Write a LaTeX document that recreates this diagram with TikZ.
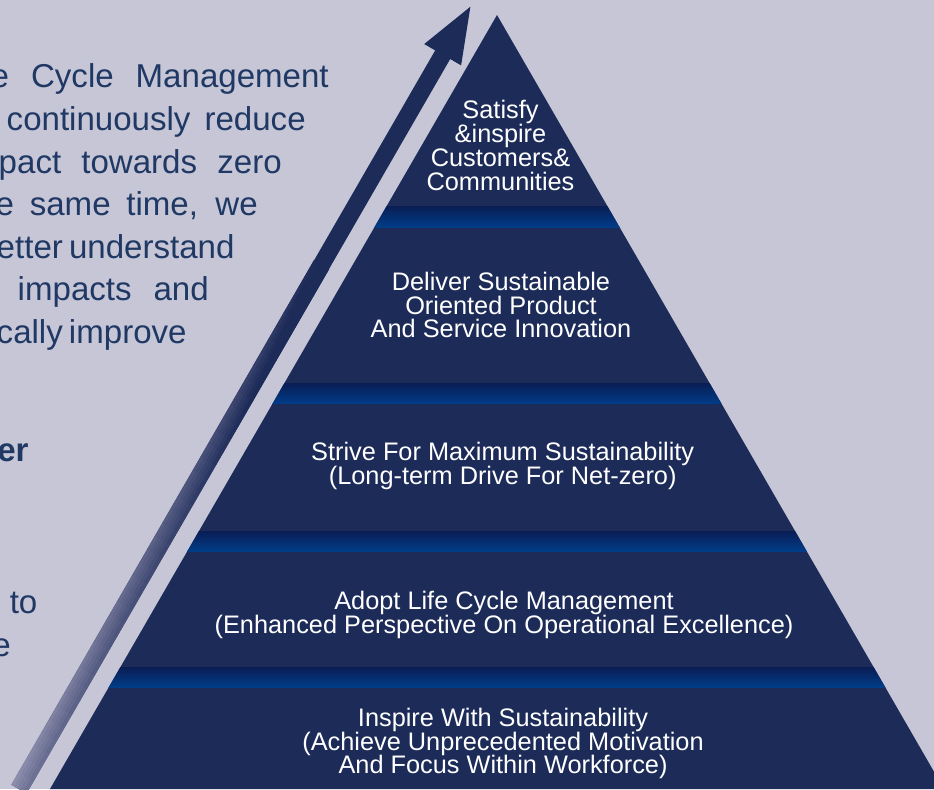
\documentclass[tikz,border=0pt]{standalone}
\usepackage{fontspec}
\setmainfont{Liberation Sans}
\usetikzlibrary{calc}
\definecolor{bgc}{HTML}{C6C6D6}
\definecolor{navyc}{HTML}{1D2B59}
\definecolor{bandtop}{HTML}{0A1E55}
\definecolor{bandbot}{HTML}{003C88}
\definecolor{arrowlight}{HTML}{9292B0}
\definecolor{txtc}{HTML}{1F3864}
\newlength\pxu
\setlength\pxu{0.75pt}
\begin{document}
\begin{tikzpicture}[x=0.75pt,y=-0.75pt,
  pyrtext/.style={text=white, font=\fontsize{19}{17.8}\selectfont, inner sep=0pt, anchor=base},
  lefttext/.style={text=txtc, font=\fontsize{24.8}{28}\selectfont, inner sep=0pt},
  bandfill/.style={top color=bandtop, bottom color=bandbot}]
\useasboundingbox (0,0) rectangle (934,789);
\fill[bgc] (0,0) rectangle (934,789);
\clip (0,0) rectangle (934,789);

% left paragraph (justified fragments)
\node[lefttext, anchor=base east] (l1) at (329,87.3) {\makebox[338\pxu][s]{e Cycle Management}};
\node[lefttext, anchor=base east] (l2) at (306,130) {\makebox[299\pxu][s]{continuously reduce}};
\node[lefttext, anchor=base east] (l3) at (282,173.5) {\makebox[283\pxu][s]{pact towards zero}};
\node[lefttext, anchor=base east] (l4) at (258,215) {\makebox[262\pxu][s]{e same time, we}};
\node[lefttext, anchor=base east] (l5) at (233,258) {\makebox[236\pxu][s]{etter understand}};
\node[lefttext, anchor=base east] (l6) at (209,300.7) {\makebox[191\pxu][s]{impacts and}};
\node[lefttext, anchor=base east] (l7) at (185,343.3) {\makebox[188\pxu][s]{cally improve}};
\node[lefttext, anchor=base west, font=\fontsize{24.8}{28}\selectfont\bfseries] (l8) at (-3,461.7) {er};
\node[lefttext, anchor=base west] (l9) at (9.5,613) {to};
\node[lefttext, anchor=base west] (l10) at (-8,656.7) {e};

% pyramid
\coordinate (apex) at (497,15);
\coordinate (bl) at (50,789);
\coordinate (br) at (944,789);
\fill[navyc] (apex) -- (bl) -- (br) -- cycle;
\begin{scope}
  \clip (apex) -- (bl) -- (br) -- cycle;
  \shade[bandfill] (0,206) rectangle (934,227);
  \shade[bandfill] (0,383) rectangle (934,403.5);
  \shade[bandfill] (0,531) rectangle (934,551);
  \shade[bandfill] (0,667) rectangle (934,687);
\end{scope}

% arrow: head + shaft
\coordinate (tip) at (470.4,6.7);
\coordinate (wl) at (424.2,44.05);
\coordinate (wr) at (461.1,65.35);
\coordinate (stl) at (435.2,50.4);
\coordinate (str) at (450.2,59.0);
\coordinate (sbl) at (11.5,784.7);
\coordinate (sbr) at (26.5,793.3);
\fill[navyc] (tip) -- (wr) -- (str) -- (sbr) -- (sbl) -- (stl) -- (wl) -- cycle;
\foreach \i in {0,...,39}{
  \foreach \j in {0,...,4}{
    \pgfmathsetmacro\ua{\i/56}
    \pgfmathsetmacro\ub{(\i+1)/56}
    \pgfmathsetmacro\va{\j/5-0.5}
    \pgfmathsetmacro\vb{(\j+1)/5-0.5}
    \pgfmathsetmacro\tval{min(100,100*(1.35*(\i+0.5)/56+0.32*(\j+0.5)/5))}
    \filldraw[line width=0.3pt, fill=navyc!\tval!arrowlight, draw=navyc!\tval!arrowlight]
      (19+423.7*\ua+14.98*\va, 789-734.3*\ua+8.65*\va) --
      (19+423.7*\ub+14.98*\va, 789-734.3*\ub+8.65*\va) --
      (19+423.7*\ub+14.98*\vb, 789-734.3*\ub+8.65*\vb) --
      (19+423.7*\ua+14.98*\vb, 789-734.3*\ua+8.65*\vb) -- cycle;
  }
}

% pyramid texts
\node[pyrtext] (a1) at (500.5,118.3) {Satisfy};
\node[pyrtext] (a2) at (500.5,142.5) {\&inspire};
\node[pyrtext] (a3) at (500.5,166.7) {Customers\&};
\node[pyrtext] (a4) at (500.5,190) {Communities};
\node[pyrtext] (b1) at (501,290) {Deliver Sustainable};
\node[pyrtext] (b2) at (501,314) {Oriented Product};
\node[pyrtext] (b3) at (501,337) {And Service Innovation};
\node[pyrtext] (c1) at (502.7,460.7) {Strive For Maximum Sustainability};
\node[pyrtext] (c2) at (502.7,484) {(Long-term Drive For Net-zero)};
\node[pyrtext] (d1) at (504,609.3) {Adopt Life Cycle Management};
\node[pyrtext] (d2) at (504,633) {(Enhanced Perspective On Operational Excellence)};
\node[pyrtext] (e1) at (503,726.7) {Inspire With Sustainability};
\node[pyrtext] (e2) at (503,750) {(Achieve Unprecedented Motivation};
\node[pyrtext] (e3) at (503,773) {And Focus Within Workforce)};
\end{tikzpicture}
\end{document}
